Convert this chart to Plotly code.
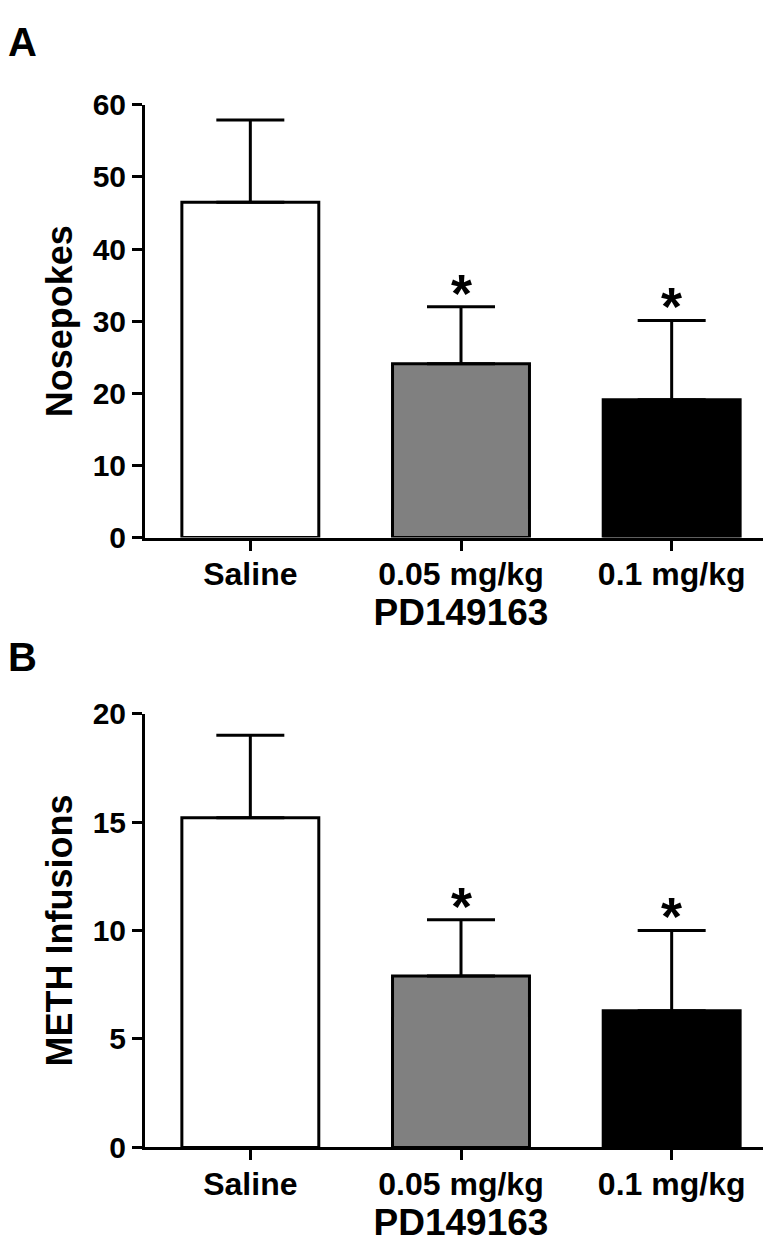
import plotly.graph_objects as go

categories = ["Saline", "0.05 mg/kg", "0.1 mg/kg"]
bar_colors = ["#ffffff", "#808080", "#000000"]

nosepokes_mean = [46.5, 24.1, 19.1]
nosepokes_sem = [11.4, 7.9, 11.0]

infusions_mean = [15.2, 7.9, 6.3]
infusions_sem = [3.8, 2.6, 3.7]

sig_a = [False, True, True]
sig_b = [False, True, True]

FONT = "Liberation Sans, Arial, sans-serif"
W, H = 771, 1241

fig = go.Figure()

def add_bars(xref, yref, means, sems):
    fig.add_trace(go.Bar(
        x=categories, y=means, xaxis=xref, yaxis=yref,
        width=0.65,
        marker=dict(color=bar_colors, line=dict(color="black", width=3)),
        error_y=dict(type="data", symmetric=False, array=sems,
                     arrayminus=[0] * len(sems), color="black",
                     thickness=3, width=34),
        showlegend=False,
    ))

add_bars("x", "y", nosepokes_mean, nosepokes_sem)
add_bars("x2", "y2", infusions_mean, infusions_sem)

xdom = [137 / W, 769 / W]
ydomA = [1 - 527 / H, 1 - 82 / H]
ydomB = [1 - 1154 / H, 1 - 708 / H]

axis_common = dict(showline=True, linewidth=3, linecolor="black", ticks="outside",
                   ticklen=10, tickwidth=3, tickcolor="black", showgrid=False,
                   zeroline=False,
                   tickfont=dict(family=FONT, size=30, color="black", weight="bold"))

xcommon = dict(axis_common, range=[-0.5, 2.5], type="category",
               tickfont=dict(family=FONT, size=32, color="black", weight="bold"),
               ticklabelstandoff=-4,
               title=dict(text="PD149163", standoff=2,
                          font=dict(family=FONT, size=37, color="black", weight="bold")))

fig.update_layout(
    width=W, height=H,
    margin=dict(l=0, r=0, t=0, b=0),
    paper_bgcolor="white", plot_bgcolor="white",
    xaxis=dict(xcommon, domain=xdom, anchor="y"),
    xaxis2=dict(xcommon, domain=xdom, anchor="y2"),
    yaxis=dict(axis_common, domain=ydomA, anchor="x", range=[0, 60], dtick=10,
               title=dict(text="Nosepokes", standoff=10,
                          font=dict(family=FONT, size=36, color="black", weight="bold"))),
    yaxis2=dict(axis_common, domain=ydomB, anchor="x2", range=[0, 20], dtick=5,
                title=dict(text="METH Infusions", standoff=10,
                           font=dict(family=FONT, size=36, color="black", weight="bold"))),
)

def add_stars(xref, yref, means, sems, sig):
    for c, m, s, g in zip(categories, means, sems, sig):
        if g:
            fig.add_annotation(x=c, y=m + s, xref=xref, yref=yref, text="*",
                               showarrow=False, yanchor="middle", yshift=14,
                               font=dict(family=FONT, size=54, color="black", weight="bold"))

add_stars("x", "y", nosepokes_mean, nosepokes_sem, sig_a)
add_stars("x2", "y2", infusions_mean, infusions_sem, sig_b)

for lbl, ypx in [("A", 17), ("B", 650)]:
    fig.add_annotation(x=0, y=1 - ypx / H, xref="paper", yref="paper", text=lbl,
                       showarrow=False, xanchor="left", yanchor="middle", xshift=-2,
                       font=dict(family=FONT, size=40, color="black", weight="bold"))

fig.write_html("out.html")
